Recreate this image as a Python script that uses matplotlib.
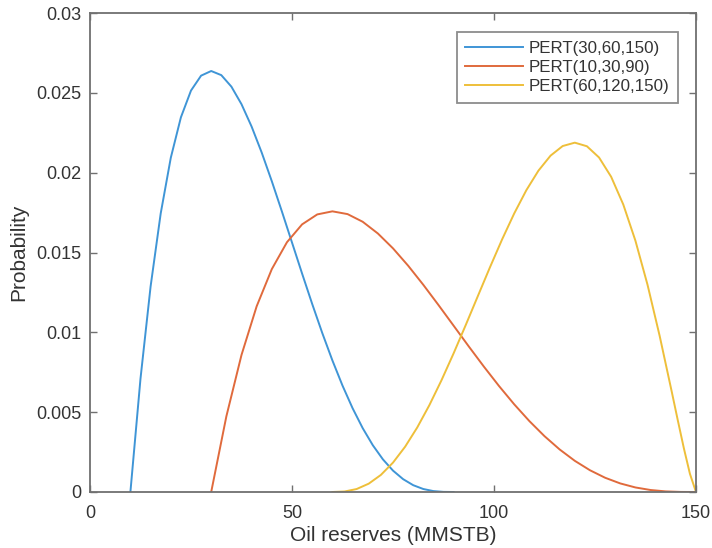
import matplotlib
matplotlib.use("Agg")
import matplotlib.pyplot as plt

plt.rcParams['font.family'] = ['Liberation Sans', 'DejaVu Sans']

labels = ["PERT(30,60,150)", "PERT(10,30,90)", "PERT(60,120,150)"]
colors = ["#3f95d6", "#e06a3c", "#eebf3a"]

x_blue = [10, 12.5, 15, 17.5, 20, 22.5, 25, 27.5, 30, 32.5, 35, 37.5, 40, 42.5, 45,
          47.5, 50, 52.5, 55, 57.5, 60, 62.5, 65, 67.5, 70, 72.5, 75, 77.5, 80,
          82.5, 85, 87.5, 90]
y_blue = [0, 0.007103, 0.012875, 0.017444, 0.020935, 0.023464, 0.025143, 0.026077,
          0.026367, 0.026108, 0.025387, 0.024288, 0.022888, 0.021259, 0.019466,
          0.017570, 0.015625, 0.013679, 0.011776, 0.009952, 0.008240, 0.006664,
          0.005245, 0.003998, 0.002930, 0.002044, 0.001339, 0.000805, 0.000427,
          0.000187, 0.0000572, 0.0000074, 0]

x_orange = [30, 33.75, 37.5, 41.25, 45, 48.75, 52.5, 56.25, 60, 63.75, 67.5, 71.25,
            75, 78.75, 82.5, 86.25, 90, 93.75, 97.5, 101.25, 105, 108.75, 112.5,
            116.25, 120, 123.75, 127.5, 131.25, 135, 138.75, 142.5, 146.25, 150]
y_orange = [0, 0.004735, 0.008583, 0.011629, 0.013957, 0.015643, 0.016762, 0.017385,
            0.017578, 0.017405, 0.016925, 0.016192, 0.015259, 0.014173, 0.012977,
            0.011713, 0.010417, 0.009119, 0.007851, 0.006635, 0.005493, 0.004443,
            0.003497, 0.002665, 0.001953, 0.001363, 0.000893, 0.000537, 0.000285,
            0.000125, 0.0000381, 0.0000049, 0]

x_yellow = [60, 63, 66, 69, 72, 75, 78, 81, 84, 87, 90, 93, 96, 99, 102, 105, 108,
            111, 114, 117, 120, 123, 126, 129, 132, 135, 138, 141, 144, 145.5, 147,
            148.5, 150]
y_yellow = [0, 0.0000307, 0.000186, 0.000523, 0.001070, 0.001841, 0.002836, 0.004041,
            0.005438, 0.006997, 0.008683, 0.010455, 0.012269, 0.014074, 0.015817,
            0.017444, 0.018899, 0.020126, 0.021067, 0.021668, 0.021879, 0.021654,
            0.020951, 0.019741, 0.018005, 0.015743, 0.012981, 0.009782, 0.006277,
            0.004484, 0.002735, 0.001136, 0]

x_ticks = [0, 50, 100, 150]
y_ticks = [0, 0.005, 0.01, 0.015, 0.02, 0.025, 0.03]
y_ticklabels = ["0", "0.005", "0.01", "0.015", "0.02", "0.025", "0.03"]

fig = plt.figure(figsize=(7.12, 5.48), dpi=100)
ax = fig.add_axes([90/712, 56/548, 606/712, 479/548])

for xs, ys, c, lab in zip([x_blue, x_orange, x_yellow],
                          [y_blue, y_orange, y_yellow], colors, labels):
    ax.plot(xs, ys, color=c, lw=1.4, label=lab)

ax.set_xlim(0, 150)
ax.set_ylim(0, 0.03)
ax.set_xticks(x_ticks)
ax.set_xticklabels([str(t) for t in x_ticks])
ax.set_yticks(y_ticks)
ax.set_yticklabels(y_ticklabels)

axcol = "#707070"
txtcol = "#333333"
for s in ax.spines.values():
    s.set_color(axcol)
    s.set_linewidth(1.3)
ax.tick_params(direction='in', length=5, width=1.0, color=axcol,
               labelcolor=txtcol, labelsize=13, top=True, right=True)
ax.tick_params(axis='x', pad=9)
ax.tick_params(axis='y', pad=6)

ax.set_xlabel("Oil reserves (MMSTB)", fontsize=15, color=txtcol, labelpad=3)
ax.set_ylabel("Probability", fontsize=15, color=txtcol, labelpad=6)

leg = ax.legend(loc='upper right', bbox_to_anchor=(0.970, 0.960), fontsize=12.2,
                frameon=True, fancybox=False, handlelength=3.4, borderpad=0.5,
                labelspacing=0.25, handletextpad=0.35, borderaxespad=0)
leg.get_frame().set_edgecolor(axcol)
leg.get_frame().set_linewidth(1.3)
for t in leg.get_texts():
    t.set_color(txtcol)

fig.savefig("out.png", dpi=100)
